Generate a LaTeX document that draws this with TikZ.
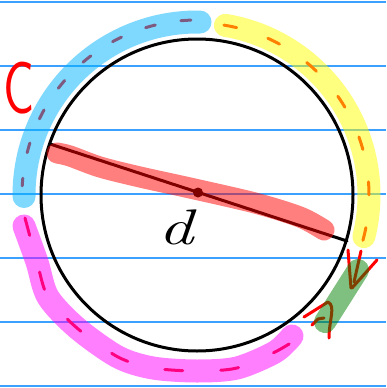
\documentclass[tikz,border=0pt]{standalone}
\definecolor{rule}{RGB}{60,160,255}
\definecolor{hlblue}{RGB}{0,180,255}
\definecolor{hlyellow}{RGB}{255,255,0}
\definecolor{hlmag}{RGB}{255,0,255}
\definecolor{hlgreen}{RGB}{0,128,0}
\definecolor{hlred}{RGB}{255,0,0}
\tikzset{
  hl/.style={line width=23pt, line cap=round, line join=round, draw opacity=0.5},
  pen/.style={red, line width=3pt, line cap=round, line join=round},
  ink/.style={black, line width=3pt, line cap=round}
}
\begin{document}
\begin{tikzpicture}[x=1pt,y=-1pt]
\useasboundingbox (0,0) rectangle (386,388);
\fill[white] (0,0) rectangle (386,388);
% ruled paper
\foreach \yy in {2,66,130,194,258,322,386}
  \draw[rule, line width=1.5pt] (0,\yy) -- (386,\yy);
% circle and diameter
\coordinate (O) at (197,195);
\draw[ink] (O) circle[radius=156];
\coordinate (dA) at (50,144);
\coordinate (dB) at (347,241);
\draw[ink] (dA) -- (dB);
\fill (198,192.5) circle[radius=5];
% red dashed circumference
\draw[pen, dash pattern=on 10pt off 26pt] (O) ++(-92:175) arc[start angle=-92, end angle=-177, radius=175];
\draw[pen, dash pattern=on 13pt off 33pt] (O) ++(-81:172) arc[start angle=-81, end angle=16, radius=172];
\draw[pen, dash pattern=on 18pt off 38pt] plot[smooth] coordinates {(25,218) (37,262) (48,297) (77,328) (118,357) (153,368) (197,371) (237,368) (275,352) (297,339)};
% red arrow strokes
\draw[pen] (348,250) -- (351,288);
\draw[pen] (361,251) -- (354,282);
\draw[pen] (377,260) -- (352,288);
\draw[pen] (304,317) -- (328,302) .. controls (336,306) and (329,320) .. (329,338);
\draw[pen] (312,325) -- (318,319) -- (324,318);
% highlighter bands
\draw[hl, hlblue] (O) ++(-89:173) arc[start angle=-89, end angle=-180.5, radius=173];
\draw[hl, hlyellow] (O) ++(-80.5:172) arc[start angle=-80.5, end angle=14, radius=172];
\draw[hl, hlmag] plot[smooth] coordinates {(24,226) (37,262) (48,297) (77,328) (118,357) (153,368) (197,371) (237,368) (275,352) (292,336)};
\draw[hl, hlgreen, line width=22pt] (358,270) -- (325,322);
\draw[hl, hlred, line width=21pt] plot[smooth] coordinates {(57,153) (70,156) (100,167) (140,177) (190,188) (255,203) (300,217) (324,230)};
% labels
\node[red, anchor=base west, inner sep=0, font=\sffamily\fontsize{74}{74}\selectfont] (C) at (3,113) {\scalebox{0.7}[1]{C}};
\node[anchor=base west, inner sep=0, font=\fontsize{50}{50}\selectfont\itshape] (d) at (158,244) {\scalebox{1.4}[1]{d}};
\end{tikzpicture}
\end{document}
